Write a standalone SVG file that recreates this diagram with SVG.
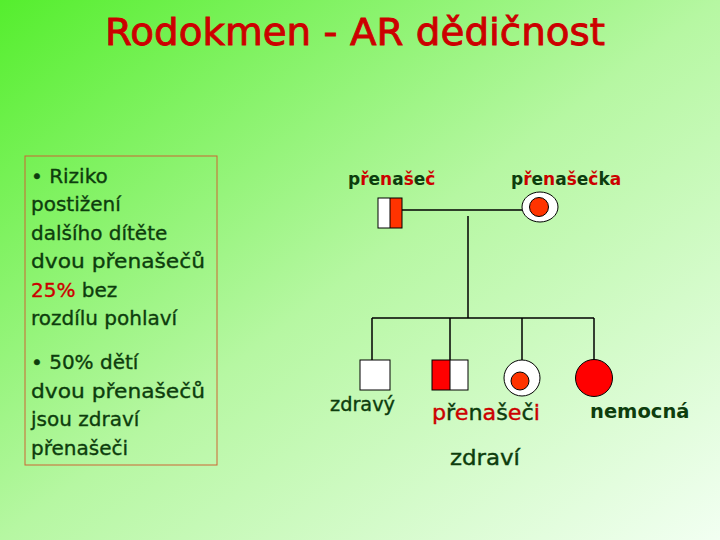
<svg xmlns="http://www.w3.org/2000/svg" width="720" height="540" viewBox="0 0 720 540">
<defs>
<linearGradient id="bg" x1="0" y1="0" x2="1" y2="1">
<stop offset="0" stop-color="#55ee2e"/>
<stop offset="0.5" stop-color="#b6f7a2"/>
<stop offset="1" stop-color="#f2fff2"/>
</linearGradient>
<style>
text{font-family:"DejaVu Sans","Liberation Sans",sans-serif;}
.t{fill:#cc0000;font-size:38px;stroke:#cc0000;stroke-width:0.9;}
.b{fill:#0d3d0d;font-size:20px;stroke:#0d3d0d;stroke-width:0.35;}
.b .r{fill:#cc0000;stroke:#cc0000;}
.g{fill:#0d3d0d;}
.r{fill:#cc0000;}
.lab{font-size:17px;font-weight:bold;fill:#0d3d0d;}
.lab2{font-size:20px;fill:#0d3d0d;stroke:#0d3d0d;stroke-width:0.4;}
.lab2 .r{stroke:#cc0000;}
.ln{stroke:#000;stroke-width:1.5;fill:none;}
.sym{stroke:#000;stroke-width:1;}
</style>
</defs>
<rect width="720" height="540" fill="url(#bg)"/>
<text class="t" x="105" y="45" textLength="500" lengthAdjust="spacingAndGlyphs">Rodokmen - AR dědičnost</text>

<g id="infobox">
<rect x="25" y="156" width="192" height="309" fill="none" stroke="#cc6633" stroke-width="1"/>
<text class="b" x="31" y="183">• Riziko</text>
<text class="b" x="31" y="211">postižení</text>
<text class="b" x="31" y="240">dalšího dítěte</text>
<text class="b" x="31" y="268" textLength="174" lengthAdjust="spacingAndGlyphs">dvou přenašečů</text>
<text class="b" x="31" y="297"><tspan class="r">25%</tspan> bez</text>
<text class="b" x="31" y="325">rozdílu pohlaví</text>
<text class="b" x="31" y="369">• 50% dětí</text>
<text class="b" x="31" y="398" textLength="174" lengthAdjust="spacingAndGlyphs">dvou přenašečů</text>
<text class="b" x="31" y="426">jsou zdraví</text>
<text class="b" x="31" y="455">přenašeči</text>
</g>

<g id="connectors">
<line class="ln" x1="402" y1="210" x2="522" y2="210"/>
<line class="ln" x1="468" y1="216" x2="468" y2="318"/>
<line class="ln" x1="372" y1="318" x2="594" y2="318"/>
<line class="ln" x1="372" y1="318" x2="372" y2="360"/>
<line class="ln" x1="450" y1="318" x2="450" y2="360"/>
<line class="ln" x1="522" y1="318" x2="522" y2="360"/>
<line class="ln" x1="594" y1="318" x2="594" y2="360"/>
</g>

<g id="father">
<rect x="378" y="198" width="12" height="30" fill="#ffffff"/>
<rect x="390" y="198" width="12" height="30" fill="#ff3300"/>
<rect class="sym" x="378" y="198" width="24" height="30" fill="none"/>
<line class="sym" x1="390" y1="198" x2="390" y2="228"/>
<text class="lab" x="348" y="185"><tspan class="g">p</tspan><tspan class="r">ř</tspan><tspan class="g">e</tspan><tspan class="r">n</tspan><tspan class="g">a</tspan><tspan class="r">š</tspan><tspan class="g">e</tspan><tspan class="r">č</tspan></text>
</g>

<g id="mother">
<ellipse class="sym" cx="540" cy="207" rx="18" ry="15" fill="#ffffff"/>
<circle class="sym" cx="539" cy="207" r="9.5" fill="#ff3300"/>
<text class="lab" x="511" y="185"><tspan class="g">p</tspan><tspan class="r">ř</tspan><tspan class="g">e</tspan><tspan class="r">n</tspan><tspan class="g">a</tspan><tspan class="r">š</tspan><tspan class="g">e</tspan><tspan class="r">č</tspan><tspan class="g">k</tspan><tspan class="r">a</tspan></text>
</g>

<g id="son-healthy">
<rect class="sym" x="360" y="360" width="30" height="30" fill="#ffffff"/>
<text class="lab2" x="330" y="411" textLength="65" lengthAdjust="spacingAndGlyphs">zdravý</text>
</g>

<g id="son-carrier">
<rect x="432" y="360" width="18" height="30" fill="#ff0000"/>
<rect x="450" y="360" width="18" height="30" fill="#ffffff"/>
<rect class="sym" x="432" y="360" width="36" height="30" fill="none"/>
<line class="sym" x1="450" y1="360" x2="450" y2="390"/>
</g>

<g id="daughter-carrier">
<circle class="sym" cx="522" cy="378" r="18" fill="#ffffff"/>
<circle class="sym" cx="520" cy="381" r="9" fill="#ff3300"/>
</g>

<g id="daughter-affected">
<circle class="sym" cx="594" cy="378" r="18.5" fill="#ff0000"/>
<text class="lab" x="590" y="418" style="font-size:19.5px">nemocná</text>
</g>

<g id="carriers-label">
<text class="lab2" x="432" y="420" style="font-size:22px" textLength="108" lengthAdjust="spacingAndGlyphs"><tspan class="r">p</tspan><tspan class="g">ř</tspan><tspan class="r">e</tspan><tspan class="g">n</tspan><tspan class="r">a</tspan><tspan class="g">š</tspan><tspan class="r">e</tspan><tspan class="g">č</tspan><tspan class="r">i</tspan></text>
<text class="lab2" x="450" y="465" style="font-size:21px" textLength="70" lengthAdjust="spacingAndGlyphs">zdraví</text>
</g>
</svg>
